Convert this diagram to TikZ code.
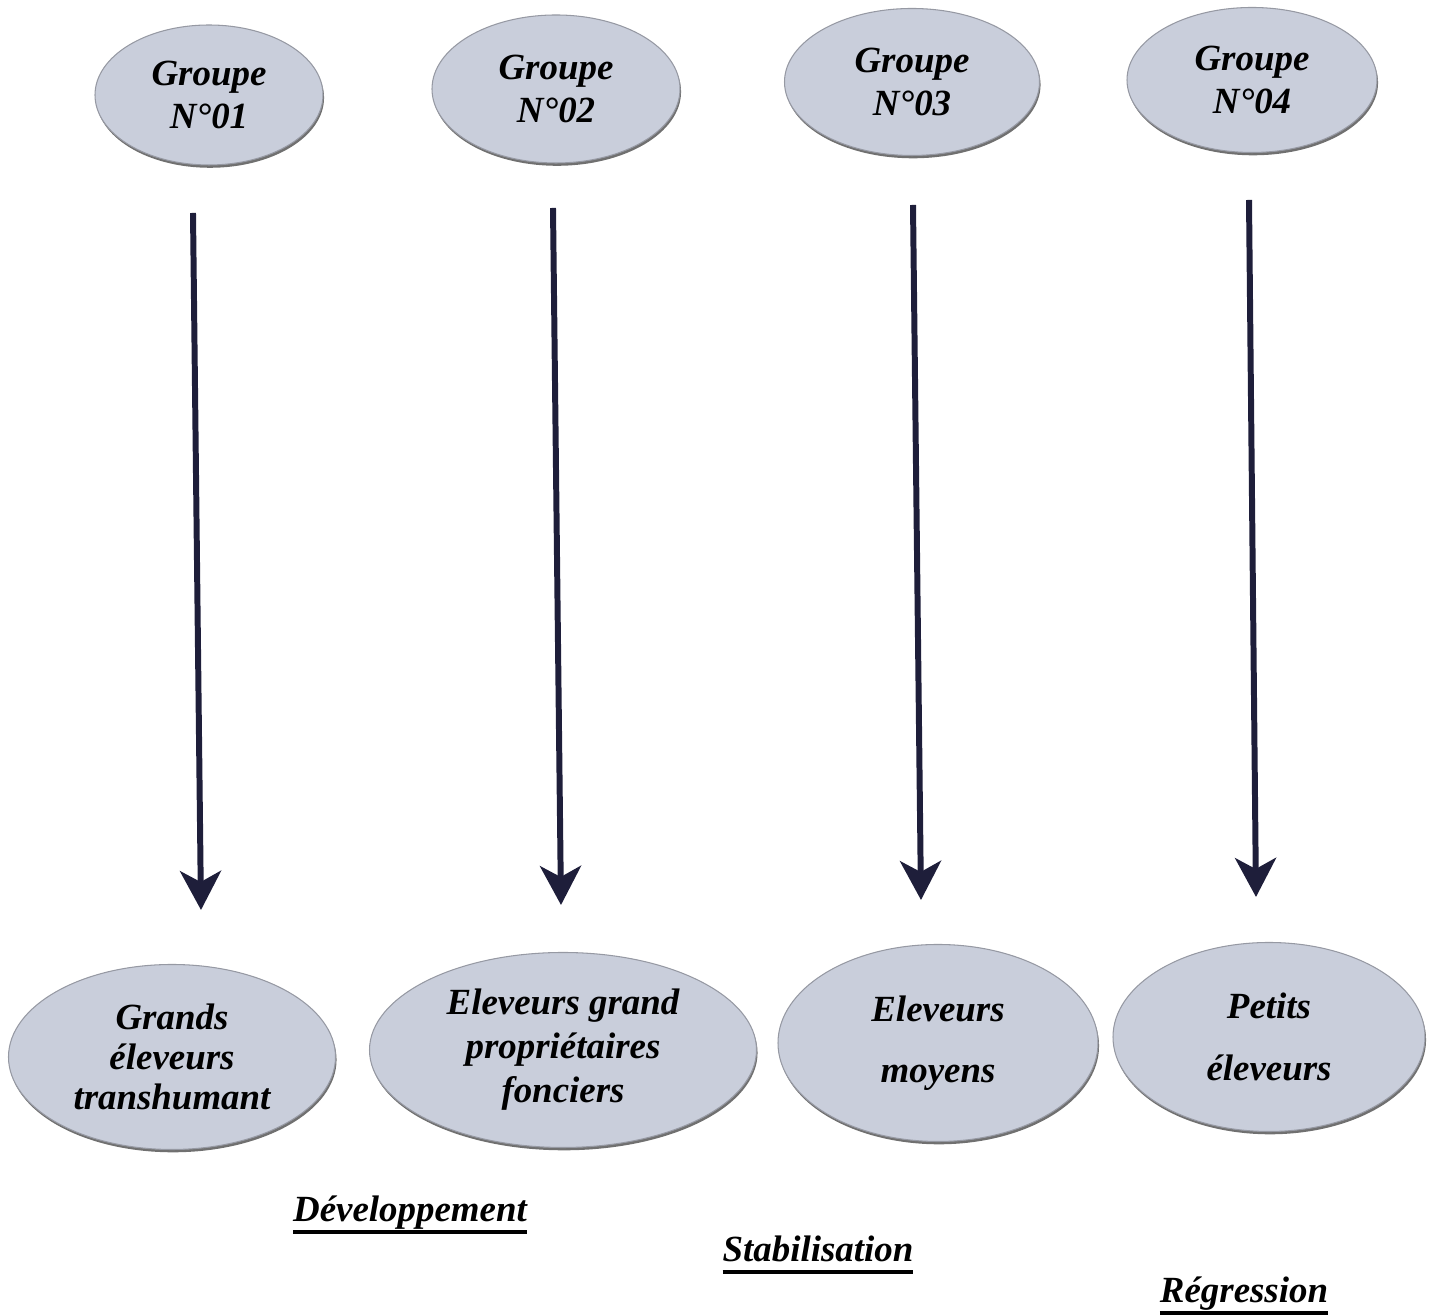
\documentclass[tikz,border=0pt]{standalone}
\usepackage{fontspec}
\setmainfont{Liberation Serif}
\usetikzlibrary{arrows.meta, shapes.geometric, shadows}

\definecolor{ellfill}{RGB}{201,206,219}
\definecolor{ellline}{RGB}{150,153,163}
\definecolor{arrowcol}{RGB}{30,30,58}

\newcommand{\thickul}[1]{\setbox0\hbox{#1}\vtop{\copy0\kern-\dp0\kern4.8pt\hrule height 1.8pt}}

\tikzset{
  grp/.style={ellipse, fill=ellfill, draw=ellline, line width=0.6pt, inner sep=0pt,
    align=center, font=\fontsize{21}{25}\selectfont\bfseries\itshape,
    drop shadow={shadow xshift=0.6pt, shadow yshift=-1.6pt, opacity=0.75, fill=black!75}},
  flow/.style={arrowcol, line width=3.4pt,
    -{Stealth[length=0.78cm, width=0.82cm, inset=0.22cm]}},
  phase/.style={anchor=base, font=\fontsize{21}{25}\selectfont\bfseries\itshape}
}

\begin{document}
\begin{tikzpicture}
  \useasboundingbox (0,0) rectangle (28.66,26.30);

  % Coordinates
  \coordinate (A) at (3.86, 22.04);
  \coordinate (B) at (4.02, 8.10);
  \coordinate (C) at (11.06, 22.14);
  \coordinate (D) at (11.22, 8.20);
  \coordinate (E) at (18.26, 22.20);
  \coordinate (F) at (18.42, 8.30);
  \coordinate (H) at (24.98, 22.30);
  \coordinate (I) at (25.12, 8.36);

  % Groups
  \node[grp, minimum width=4.56cm, minimum height=2.80cm] (G1) at (4.18, 24.40) {Groupe\\N°01};
  \node[grp, minimum width=4.96cm, minimum height=2.96cm] (G2) at (11.12, 24.52) {Groupe\\N°02};
  \node[grp, minimum width=5.10cm, minimum height=2.94cm] (G3) at (18.24, 24.66) {Groupe\\N°03};
  \node[grp, minimum width=5.00cm, minimum height=2.90cm] (G4) at (25.04, 24.70) {Groupe\\N°04};

  % Drawing
  \draw[flow] (A) -- (B);
  \draw[flow] (C) -- (D);
  \draw[flow] (E) -- (F);
  \draw[flow] (H) -- (I);

  % Types
  \node[grp, minimum width=6.54cm, minimum height=3.70cm] (T1) at (3.44, 5.16) {Grands\\[-2pt]éleveurs\\[-2pt]transhumant};
  \node[grp, minimum width=7.74cm, minimum height=3.90cm] (T2) at (11.26, 5.30) {Eleveurs grand\\propriétaires\\fonciers};
  \node[grp, minimum width=6.40cm, minimum height=3.94cm] (T3) at (18.76, 5.44) {Eleveurs\\[10pt]moyens};
  \node[grp, minimum width=6.24cm, minimum height=3.78cm] (T4) at (25.38, 5.56) {Petits\\[10pt]éleveurs};

  % Phases
  \node[phase] (P1) at (8.20, 1.86) {\thickul{Développement}};
  \node[phase] (P2) at (16.36, 1.06) {\thickul{Stabilisation}};
  \node[phase] (P3) at (24.88, 0.24) {\thickul{Régression}};
\end{tikzpicture}
\end{document}
